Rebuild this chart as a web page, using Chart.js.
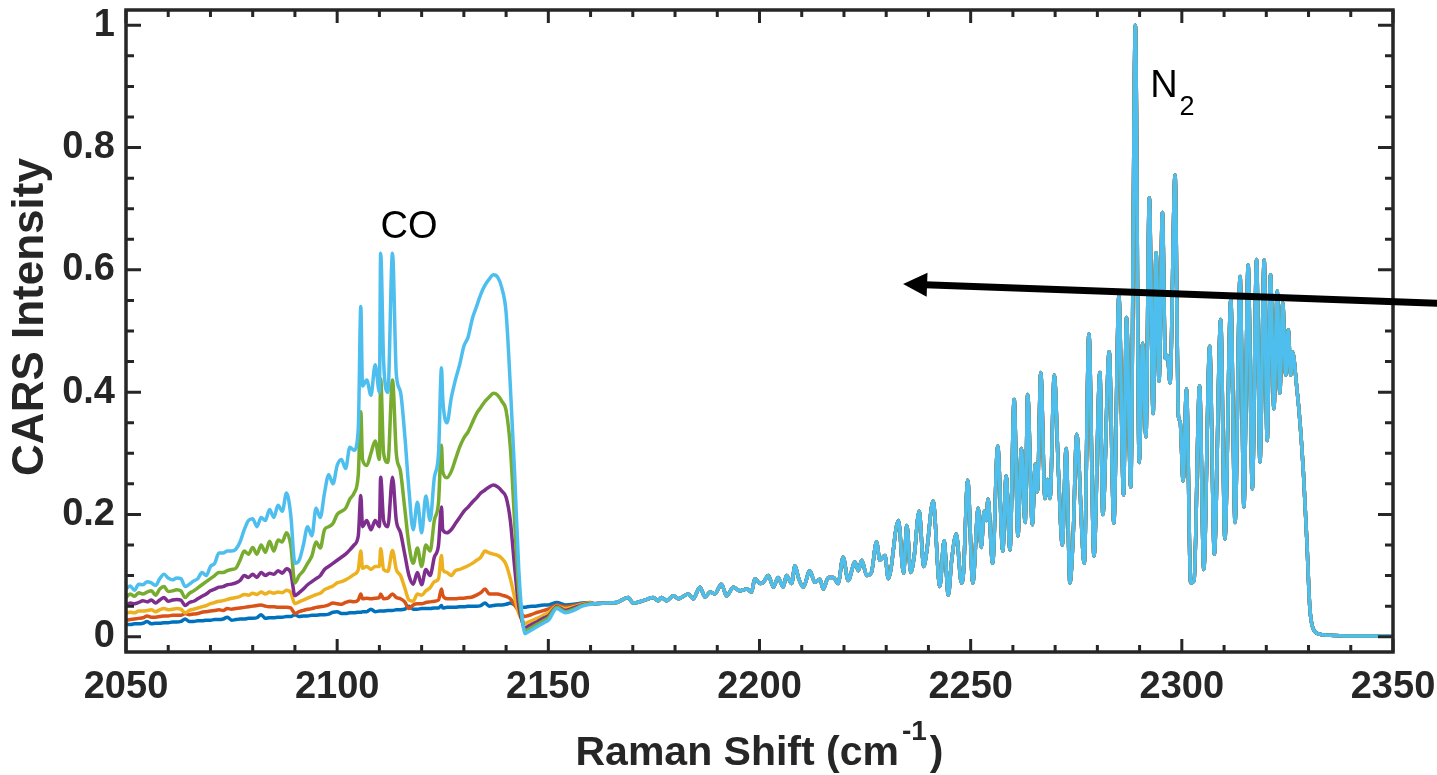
<!DOCTYPE html>
<html>
<head>
<meta charset="utf-8">
<script src="https://cdn.jsdelivr.net/npm/chart.js@4.4.1/dist/chart.umd.min.js"></script>
<style>
    html, body { margin: 0; padding: 0; background: #ffffff; }
    #wrap { width: 1437px; height: 775px; }
</style>
</head>
<body>
<div id="wrap"><canvas id="cars_chart" width="1437" height="775"></canvas></div>
<script>
// CARS spectra, CO band (per trace) + N2 band (traces overlap there)

// shared x grid for the CO region (cm-1)
const coX = [
    2050, 2051, 2052, 2053, 2054, 2055, 2056, 2057, 2058, 2059,
    2060, 2061, 2062, 2063, 2064, 2065, 2066, 2067, 2068, 2069,
    2070, 2071, 2072, 2073, 2074, 2075, 2076, 2077, 2078, 2079,
    2080, 2081, 2082, 2083, 2084, 2085, 2086, 2087, 2088, 2089,
    2090, 2091, 2092, 2093, 2094, 2095, 2096, 2097, 2098, 2099,
    2100, 2101, 2102, 2103, 2104, 2105, 2105.6, 2106, 2107, 2108,
    2109, 2110, 2110.3, 2111, 2112, 2113.1, 2114, 2115, 2116, 2117,
    2118, 2119, 2120, 2121, 2122, 2123, 2124, 2124.7, 2125, 2126,
    2127, 2128, 2129, 2130, 2131, 2132, 2133, 2134, 2135, 2136,
    2137, 2138, 2139, 2140, 2141, 2142, 2143, 2144, 2144.5, 2145,
    2146, 2147, 2148, 2149, 2150, 2152, 2154, 2156, 2158, 2160
];

const coBlue = [
    0.020, 0.020, 0.021, 0.021, 0.022, 0.025, 0.021, 0.022, 0.022, 0.023,
    0.023, 0.024, 0.024, 0.025, 0.029, 0.025, 0.025, 0.026, 0.026, 0.027,
    0.027, 0.028, 0.028, 0.029, 0.032, 0.027, 0.028, 0.029, 0.029, 0.030,
    0.030, 0.031, 0.036, 0.030, 0.031, 0.031, 0.032, 0.032, 0.033, 0.033,
    0.036, 0.033, 0.034, 0.034, 0.035, 0.035, 0.036, 0.036, 0.037, 0.040,
    0.041, 0.038, 0.038, 0.039, 0.039, 0.040, 0.040, 0.041, 0.041, 0.045,
    0.041, 0.042, 0.042, 0.042, 0.043, 0.043, 0.044, 0.044, 0.045, 0.050,
    0.045, 0.045, 0.046, 0.046, 0.046, 0.047, 0.047, 0.051, 0.047, 0.048,
    0.048, 0.048, 0.049, 0.049, 0.050, 0.050, 0.050, 0.051, 0.055, 0.050,
    0.051, 0.052, 0.052, 0.053, 0.055, 0.052, 0.050, 0.048, 0.048, 0.049,
    0.050, 0.050, 0.051, 0.052, 0.052, 0.056, 0.052, 0.053, 0.055, 0.056
];

const coOrange = [
    0.027, 0.028, 0.029, 0.030, 0.031, 0.034, 0.032, 0.032, 0.033, 0.034,
    0.034, 0.035, 0.035, 0.035, 0.038, 0.036, 0.037, 0.038, 0.040, 0.041,
    0.042, 0.043, 0.044, 0.043, 0.046, 0.045, 0.046, 0.047, 0.048, 0.049,
    0.050, 0.051, 0.052, 0.050, 0.049, 0.049, 0.048, 0.048, 0.048, 0.047,
    0.038, 0.041, 0.043, 0.045, 0.046, 0.048, 0.049, 0.050, 0.052, 0.055,
    0.054, 0.053, 0.056, 0.058, 0.057, 0.060, 0.070, 0.062, 0.063, 0.062,
    0.063, 0.064, 0.070, 0.062, 0.063, 0.070, 0.064, 0.062, 0.057, 0.046,
    0.052, 0.054, 0.054, 0.056, 0.057, 0.058, 0.060, 0.078, 0.068, 0.062,
    0.062, 0.062, 0.063, 0.063, 0.064, 0.065, 0.068, 0.072, 0.078, 0.070,
    0.070, 0.070, 0.068, 0.066, 0.062, 0.052, 0.042, 0.035, 0.033, 0.034,
    0.036, 0.039, 0.041, 0.043, 0.045, 0.052, 0.049, 0.051, 0.054, 0.055
];

const coYellow = [
    0.038, 0.040, 0.039, 0.042, 0.042, 0.043, 0.044, 0.041, 0.044, 0.046,
    0.044, 0.045, 0.046, 0.045, 0.039, 0.043, 0.045, 0.047, 0.049, 0.051,
    0.054, 0.056, 0.058, 0.059, 0.061, 0.063, 0.064, 0.066, 0.069, 0.068,
    0.071, 0.069, 0.073, 0.070, 0.073, 0.071, 0.073, 0.072, 0.076, 0.072,
    0.054, 0.057, 0.060, 0.063, 0.066, 0.069, 0.071, 0.077, 0.080, 0.083,
    0.088, 0.090, 0.093, 0.097, 0.102, 0.110, 0.140, 0.112, 0.115, 0.110,
    0.115, 0.115, 0.144, 0.110, 0.107, 0.141, 0.110, 0.100, 0.080, 0.060,
    0.058, 0.070, 0.068, 0.075, 0.080, 0.090, 0.095, 0.133, 0.110, 0.105,
    0.100, 0.108, 0.110, 0.113, 0.116, 0.120, 0.125, 0.130, 0.140, 0.137,
    0.135, 0.133, 0.128, 0.118, 0.095, 0.065, 0.038, 0.025, 0.021, 0.023,
    0.026, 0.029, 0.032, 0.036, 0.039, 0.050, 0.046, 0.049, 0.053, 0.055
];

const coPurple = [
    0.051, 0.055, 0.054, 0.056, 0.059, 0.057, 0.060, 0.055, 0.060, 0.064,
    0.058, 0.060, 0.061, 0.060, 0.051, 0.056, 0.058, 0.062, 0.066, 0.070,
    0.075, 0.078, 0.081, 0.082, 0.085, 0.086, 0.088, 0.092, 0.100, 0.097,
    0.102, 0.097, 0.105, 0.100, 0.104, 0.102, 0.108, 0.104, 0.111, 0.105,
    0.067, 0.072, 0.078, 0.085, 0.090, 0.095, 0.100, 0.110, 0.115, 0.120,
    0.125, 0.130, 0.135, 0.142, 0.150, 0.165, 0.231, 0.180, 0.190, 0.175,
    0.190, 0.180, 0.261, 0.190, 0.180, 0.261, 0.190, 0.170, 0.135, 0.100,
    0.086, 0.105, 0.085, 0.110, 0.100, 0.130, 0.150, 0.212, 0.175, 0.170,
    0.175, 0.185, 0.195, 0.205, 0.212, 0.220, 0.227, 0.235, 0.240, 0.245,
    0.248, 0.245, 0.238, 0.228, 0.190, 0.115, 0.050, 0.020, 0.014, 0.016,
    0.020, 0.023, 0.027, 0.031, 0.034, 0.049, 0.043, 0.047, 0.052, 0.054
];

const coGreen = [
    0.064, 0.070, 0.066, 0.072, 0.070, 0.073, 0.075, 0.068, 0.078, 0.082,
    0.074, 0.075, 0.077, 0.075, 0.064, 0.071, 0.075, 0.080, 0.085, 0.090,
    0.095, 0.100, 0.105, 0.105, 0.108, 0.110, 0.112, 0.125, 0.140, 0.135,
    0.146, 0.135, 0.150, 0.138, 0.156, 0.140, 0.158, 0.155, 0.170, 0.150,
    0.088, 0.100, 0.108, 0.120, 0.132, 0.155, 0.145, 0.175, 0.180, 0.185,
    0.200, 0.205, 0.210, 0.225, 0.235, 0.265, 0.368, 0.290, 0.280, 0.300,
    0.320, 0.290, 0.422, 0.300, 0.285, 0.420, 0.300, 0.270, 0.210, 0.150,
    0.120, 0.145, 0.115, 0.150, 0.140, 0.190, 0.220, 0.313, 0.270, 0.260,
    0.270, 0.290, 0.310, 0.325, 0.335, 0.350, 0.365, 0.375, 0.385, 0.392,
    0.398, 0.395, 0.385, 0.370, 0.310, 0.190, 0.075, 0.020, 0.009, 0.011,
    0.015, 0.019, 0.023, 0.027, 0.031, 0.048, 0.041, 0.045, 0.051, 0.054
];

const coCyan = [
    0.078, 0.083, 0.076, 0.086, 0.085, 0.090, 0.088, 0.084, 0.095, 0.102,
    0.096, 0.093, 0.096, 0.095, 0.082, 0.086, 0.091, 0.095, 0.105, 0.100,
    0.115, 0.120, 0.137, 0.137, 0.140, 0.140, 0.143, 0.155, 0.175, 0.190,
    0.193, 0.180, 0.195, 0.190, 0.208, 0.195, 0.215, 0.205, 0.235, 0.200,
    0.120, 0.125, 0.150, 0.180, 0.165, 0.210, 0.195, 0.235, 0.265, 0.250,
    0.280, 0.290, 0.275, 0.310, 0.305, 0.340, 0.540, 0.410, 0.420, 0.395,
    0.445, 0.400, 0.627, 0.450, 0.400, 0.627, 0.430, 0.400, 0.330, 0.240,
    0.175, 0.220, 0.170, 0.230, 0.190, 0.260, 0.300, 0.440, 0.390, 0.350,
    0.390, 0.420, 0.445, 0.475, 0.490, 0.520, 0.540, 0.560, 0.575, 0.585,
    0.592, 0.588, 0.570, 0.530, 0.410, 0.270, 0.110, 0.020, 0.005, 0.007,
    0.011, 0.015, 0.019, 0.023, 0.027, 0.046, 0.039, 0.043, 0.050, 0.053
];

// N2 region: all six traces sit on top of each other here
const n2X = [
    2161, 2163.8, 2166.2, 2168.9, 2170.1, 2172.5, 2174.8, 2176, 2176.8, 2178,
    2179.6, 2180.8, 2183.1, 2184.3, 2185.9, 2187.1, 2188.3, 2189.4, 2191, 2192.2,
    2193.8, 2195.4, 2197, 2198.1, 2198.9, 2200.1, 2200.9, 2202.1, 2203.3, 2204.4,
    2205.6, 2206.4, 2207.6, 2208.4, 2209.2, 2210.4, 2211.9, 2213.1, 2214.3, 2215.1,
    2216.3, 2217.5, 2218.6, 2219.8, 2221, 2222.6, 2223.4, 2224.2, 2225.4, 2226.5,
    2227.7, 2228.5, 2229.7, 2230.5, 2232.9, 2234.1, 2234.9, 2235.8, 2236.6, 2237.8,
    2238.9, 2239.6, 2241.1, 2242.7, 2243.7, 2244.7, 2245.5, 2246.6, 2247.8, 2248.3,
    2249.3, 2250.5, 2251.8, 2252.5, 2253.2, 2253.7, 2254.1, 2255.2, 2256.4, 2257.6,
    2258.4, 2259.3, 2260.3, 2261.2, 2262, 2262.9, 2263.5, 2264.6, 2265.3, 2265.8,
    2266.6, 2267.6, 2268.2, 2268.8, 2269.8, 2270.8, 2271.7, 2272.6, 2273.5, 2274.3,
    2275.1, 2276.9, 2278, 2279.2, 2280.6, 2281.3, 2282.8, 2283.9, 2285.1, 2286.2,
    2286.9, 2287.9, 2289, 2289.9, 2290.7, 2291.5, 2292.3, 2293.2, 2293.9, 2294.6,
    2295.4, 2296.1, 2296.6, 2297.2, 2298.4, 2299.2, 2299.6, 2300.3, 2301.1, 2302.1,
    2302.9, 2304.2, 2305.2, 2306.6, 2307.7, 2309.2, 2310.2, 2311.6, 2312.6, 2313.8,
    2314.7, 2315.7, 2316.7, 2317.7, 2318.5, 2319.5, 2320.2, 2321, 2321.8, 2322.6,
    2323.2, 2323.9, 2324.6, 2325.2, 2325.8, 2326.2, 2327.2, 2328, 2328.8, 2329.6,
    2330.3, 2331.1, 2332.7, 2336, 2340, 2350
];
const n2Y = [
    0.054, 0.055, 0.056, 0.064, 0.055, 0.059, 0.064, 0.059, 0.064, 0.059,
    0.067, 0.062, 0.070, 0.062, 0.081, 0.065, 0.073, 0.070, 0.086, 0.067,
    0.081, 0.075, 0.078, 0.073, 0.095, 0.087, 0.089, 0.100, 0.081, 0.097,
    0.081, 0.100, 0.087, 0.116, 0.097, 0.081, 0.108, 0.089, 0.094, 0.078,
    0.097, 0.097, 0.087, 0.130, 0.092, 0.122, 0.108, 0.125, 0.100, 0.105,
    0.155, 0.125, 0.133, 0.095, 0.190, 0.104, 0.182, 0.105, 0.130, 0.205,
    0.115, 0.140, 0.222, 0.082, 0.157, 0.068, 0.125, 0.168, 0.088, 0.105,
    0.256, 0.088, 0.210, 0.146, 0.205, 0.190, 0.225, 0.120, 0.312, 0.140,
    0.263, 0.142, 0.388, 0.165, 0.308, 0.187, 0.396, 0.183, 0.282, 0.237,
    0.432, 0.226, 0.257, 0.226, 0.428, 0.267, 0.150, 0.308, 0.088, 0.170,
    0.331, 0.120, 0.495, 0.132, 0.432, 0.200, 0.466, 0.186, 0.557, 0.232,
    0.522, 0.245, 1.000, 0.285, 0.480, 0.327, 0.718, 0.365, 0.628, 0.418,
    0.694, 0.455, 0.460, 0.415, 0.755, 0.360, 0.352, 0.255, 0.405, 0.088,
    0.092, 0.410, 0.110, 0.475, 0.135, 0.519, 0.160, 0.551, 0.187, 0.589,
    0.212, 0.608, 0.242, 0.617, 0.286, 0.616, 0.321, 0.592, 0.373, 0.566,
    0.398, 0.546, 0.428, 0.502, 0.428, 0.466, 0.409, 0.349, 0.267, 0.157,
    0.048, 0.013, 0.004, 0.002, 0.001, 0.001
];

const xTicks = [2050, 2100, 2150, 2200, 2250, 2300, 2350];
const yTicks = [0, 0.2, 0.4, 0.6, 0.8, 1];

// annotation anchors, data units
const arrowTip = [2234.0, 0.577];
const arrowTail = [2362.0, 0.545];
const coLabelPos = [2117.0, 0.652];
const n2LabelPos = [2292.5, 0.882];

const FONT = '"Liberation Sans", Arial, Helvetica, sans-serif';
const AXIS_COLOR = '#262626';

const traces = [
    { label: 'blue', color: '#0072BD', values: coBlue },
    { label: 'orange', color: '#D95319', values: coOrange },
    { label: 'yellow', color: '#EDB120', values: coYellow },
    { label: 'purple', color: '#7E2F8E', values: coPurple },
    { label: 'green', color: '#77AC30', values: coGreen },
    { label: 'cyan', color: '#4DBEEE', values: coCyan }
];

function buildPoints(values) {
    let pts = coX.map(function (x, i) { return { x: x, y: values[i] }; });
    return pts.concat(n2X.map(function (x, i) { return { x: x, y: n2Y[i] }; }));
}

// box, inward ticks, arrow, text labels, axis titles
const matlabAxes = {
    id: 'matlabAxes',
    afterDraw(chart) {
        const ctx = chart.ctx;
        const a = chart.chartArea;
        const xs = chart.scales.x;
        const ys = chart.scales.y;
        ctx.save();

        ctx.strokeStyle = AXIS_COLOR;
        ctx.lineWidth = 3;
        ctx.beginPath();
        for (let v = 2050; v <= 2350; v += 10) {
            let px = xs.getPixelForValue(v);
            let len = (v % 50 === 0) ? 13 : 7;
            ctx.moveTo(px, a.bottom); ctx.lineTo(px, a.bottom - len);
            ctx.moveTo(px, a.top); ctx.lineTo(px, a.top + len);
        }
        for (let k = 0; k <= 20; k++) {
            let py = ys.getPixelForValue(k * 0.05);
            let len = (k % 4 === 0) ? 15 : 8;
            ctx.moveTo(a.left, py); ctx.lineTo(a.left + len, py);
            ctx.moveTo(a.right, py); ctx.lineTo(a.right - len, py);
        }
        ctx.stroke();
        ctx.lineWidth = 3.5;
        ctx.strokeRect(a.left, a.top, a.right - a.left, a.bottom - a.top);

        // arrow
        let tx = xs.getPixelForValue(arrowTip[0]), ty = ys.getPixelForValue(arrowTip[1]);
        let sx = xs.getPixelForValue(arrowTail[0]), sy = ys.getPixelForValue(arrowTail[1]);
        let ang = Math.atan2(ty - sy, tx - sx);
        let headLen = 24, headHalf = 12;
        let bx = tx - headLen * Math.cos(ang), by = ty - headLen * Math.sin(ang);
        ctx.strokeStyle = '#000';
        ctx.lineWidth = 7;
        ctx.beginPath();
        ctx.moveTo(sx, sy);
        ctx.lineTo(bx + 2 * Math.cos(ang), by + 2 * Math.sin(ang));
        ctx.stroke();
        ctx.fillStyle = '#000';
        ctx.beginPath();
        ctx.moveTo(tx, ty);
        ctx.lineTo(bx + headHalf * Math.sin(ang), by - headHalf * Math.cos(ang));
        ctx.lineTo(bx - headHalf * Math.sin(ang), by + headHalf * Math.cos(ang));
        ctx.closePath();
        ctx.fill();

        // species labels
        ctx.fillStyle = '#000';
        ctx.textBaseline = 'alphabetic';
        ctx.font = '38px ' + FONT;
        ctx.textAlign = 'center';
        ctx.fillText('CO', xs.getPixelForValue(coLabelPos[0]), ys.getPixelForValue(coLabelPos[1]));
        ctx.textAlign = 'left';
        let nx = xs.getPixelForValue(n2LabelPos[0]);
        let ny = ys.getPixelForValue(n2LabelPos[1]);
        ctx.fillText('N', nx, ny);
        let nw = ctx.measureText('N').width;
        ctx.font = '27px ' + FONT;
        ctx.fillText('2', nx + nw + 2, ny + 18);

        // axis titles
        ctx.fillStyle = AXIS_COLOR;
        let main = 'Raman Shift (cm';
        let sup = '-1';
        let close = ')';
        ctx.font = 'bold 41px ' + FONT;
        let w1 = ctx.measureText(main).width;
        let w3 = ctx.measureText(close).width;
        ctx.font = 'bold 28px ' + FONT;
        let w2 = ctx.measureText(sup).width;
        let cx = (a.left + a.right) / 2;
        let x0 = cx - (w1 + w2 + 6 + w3) / 2;
        let base = 765;
        ctx.textAlign = 'left';
        ctx.font = 'bold 41px ' + FONT;
        ctx.fillText(main, x0, base);
        ctx.font = 'bold 28px ' + FONT;
        ctx.fillText(sup, x0 + w1 + 3, base - 25);
        ctx.font = 'bold 41px ' + FONT;
        ctx.fillText(close, x0 + w1 + w2 + 6, base);

        ctx.translate(31, 317);
        ctx.rotate(-Math.PI / 2);
        ctx.textAlign = 'center';
        ctx.textBaseline = 'middle';
        ctx.font = 'bold 44px ' + FONT;
        ctx.fillText('CARS Intensity', 0, 0);

        ctx.restore();
    }
};

let ctx = document.getElementById('cars_chart').getContext('2d');
const carsChart = new Chart(ctx, {
    type: 'line',
    data: {
        datasets: traces.map(function (t, i) {
            return {
                label: t.label,
                data: buildPoints(t.values),
                borderColor: t.color,
                backgroundColor: t.color,
                borderWidth: 3.5,
                pointRadius: 0,
                fill: false,
                cubicInterpolationMode: 'monotone',
                order: traces.length - i // cyan drawn last, on top
            };
        })
    },
    options: {
        responsive: false,
        devicePixelRatio: 1,
        animation: false,
        layout: { padding: { top: 10, right: 44, left: 0, bottom: 0 } },
        plugins: {
            legend: { display: false },
            tooltip: { enabled: false }
        },
        scales: {
            x: {
                type: 'linear',
                min: 2050,
                max: 2350,
                grid: { display: false, drawTicks: false },
                border: { display: false },
                afterBuildTicks: function (scale) {
                    scale.ticks = xTicks.map(function (v) { return { value: v }; });
                },
                afterFit: function (scale) {
                    scale.height = 123;
                    scale.paddingLeft = 0;
                    scale.paddingRight = 0;
                },
                ticks: {
                    padding: 13,
                    maxRotation: 0,
                    color: AXIS_COLOR,
                    font: { family: FONT, size: 38, weight: 'bold' },
                    callback: function (v) { return String(v); }
                }
            },
            y: {
                min: -0.025,
                max: 1.025,
                grid: { display: false, drawTicks: false },
                border: { display: false },
                afterBuildTicks: function (scale) {
                    scale.ticks = yTicks.map(function (v) { return { value: v }; });
                },
                afterFit: function (scale) {
                    scale.width = 126;
                    scale.paddingTop = 0;
                    scale.paddingBottom = 0;
                },
                ticks: {
                    padding: 11,
                    color: AXIS_COLOR,
                    font: { family: FONT, size: 38, weight: 'bold' },
                    callback: function (v) { return String(v); }
                }
            }
        }
    },
    plugins: [matlabAxes]
});
</script>
</body>
</html>
